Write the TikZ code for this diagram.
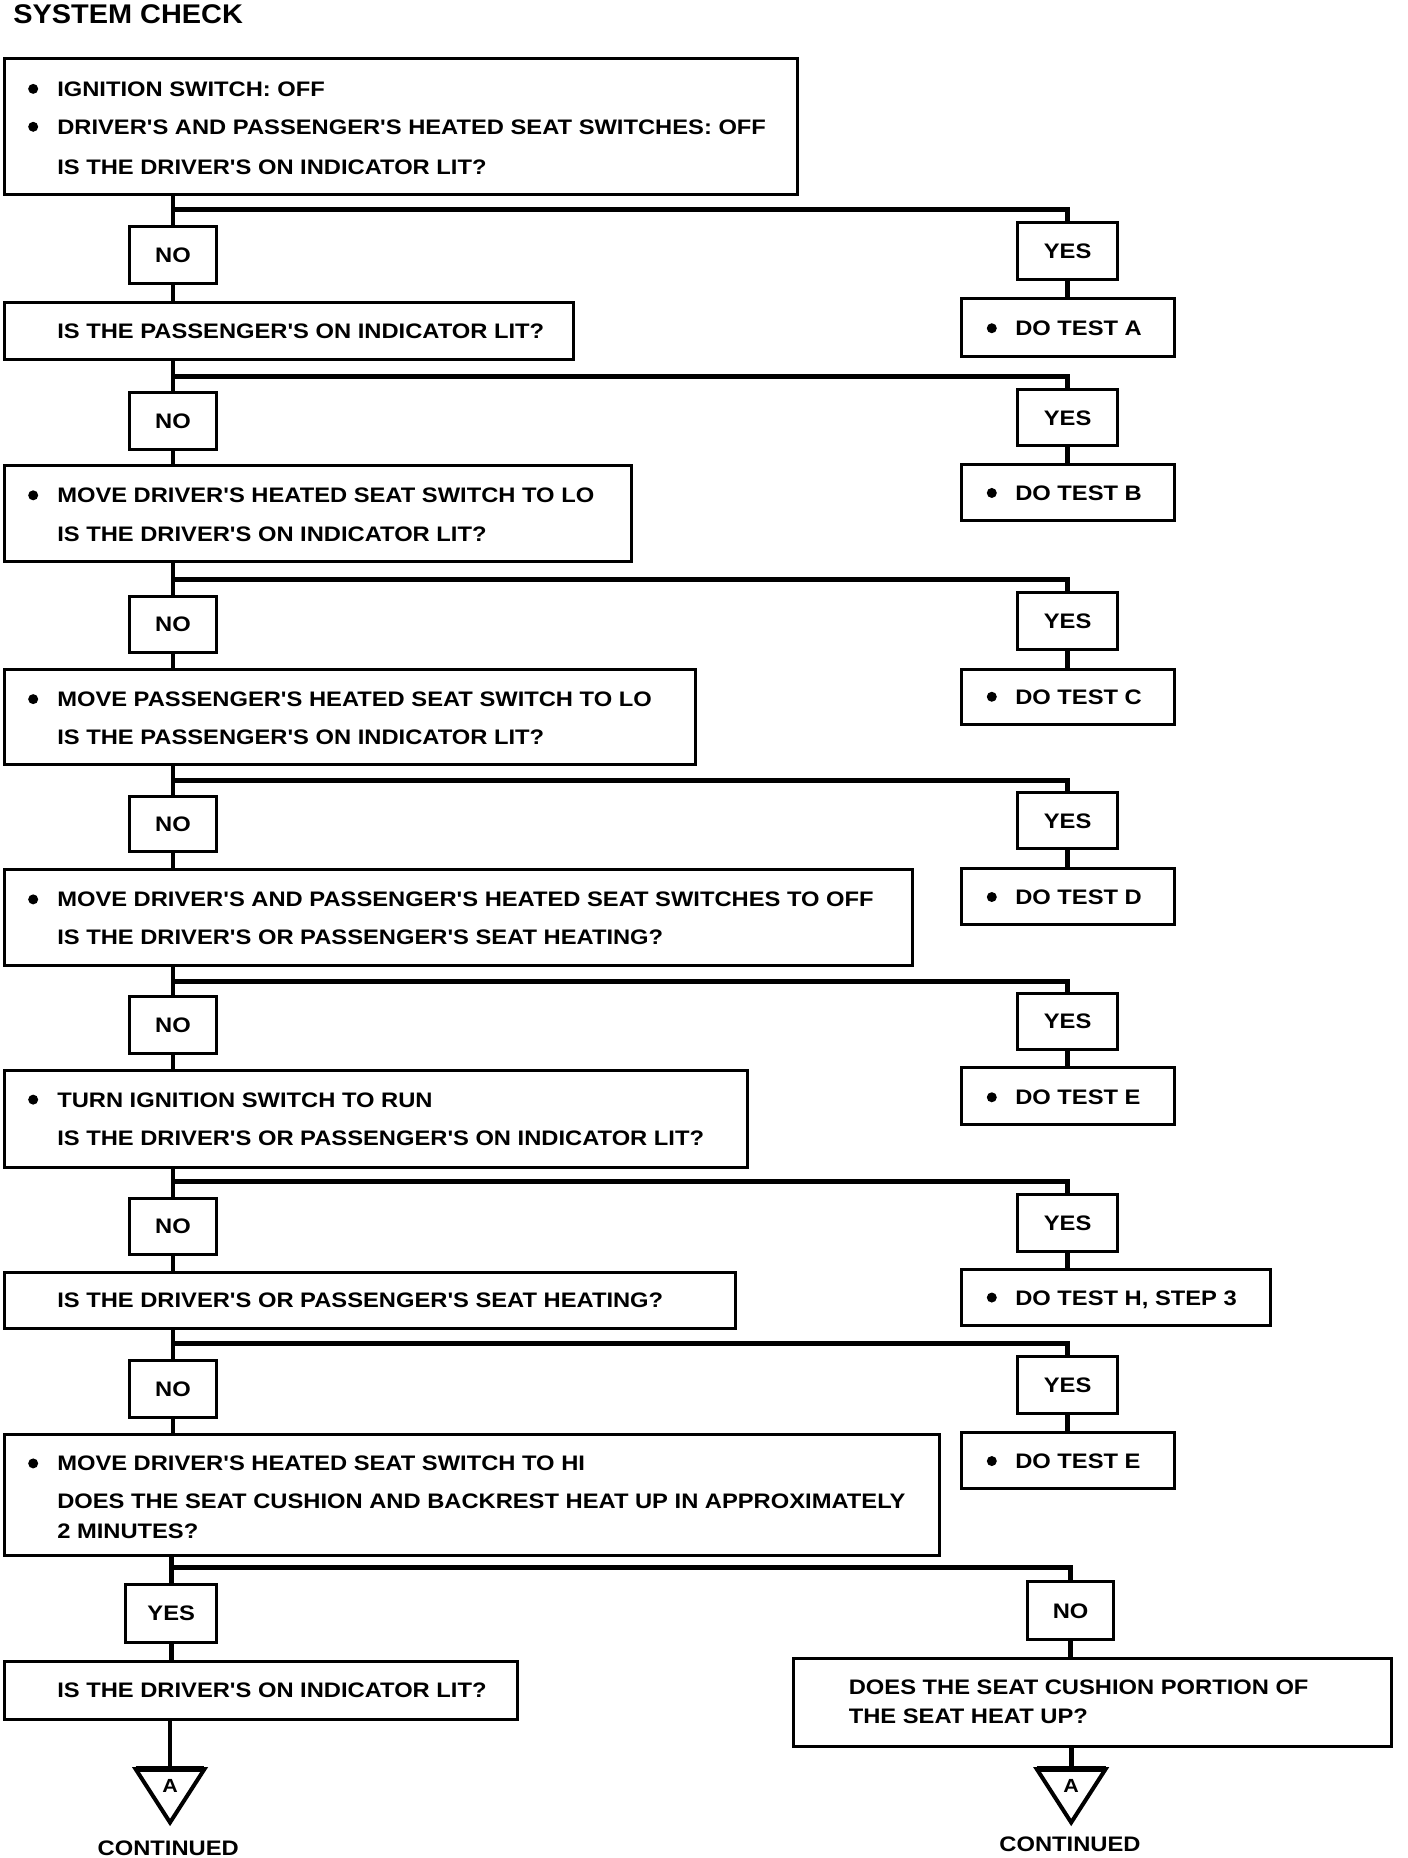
\documentclass[tikz,border=0pt]{standalone}
\usepackage{fontspec}
\setmainfont{Liberation Sans}
\newfontfamily\bodyfont{Liberation Sans Bold}[FakeStretch=1.13]
\newfontfamily\ttlfont{Liberation Sans Bold}[FakeStretch=1.07]
\usetikzlibrary{fit}
\newcommand\bfsz{\bodyfont\fontsize{10.5pt}{12pt}\selectfont}
\tikzset{
  box/.style={draw, line width=1.5pt, inner sep=0pt, fill=white},
  conn/.style={line width=2.4pt},
  txt/.style={anchor=west, inner sep=0pt, font=\bfsz, text height=7.5pt, text depth=0pt},
  ctxt/.style={anchor=center, inner sep=0pt, font=\bfsz, text height=7.5pt, text depth=0pt},
  lbl/.style={box, label={[ctxt]center:#1}},
  dot/.style={circle, fill, inner sep=0pt, minimum size=5pt},
  ttl/.style={anchor=west, inner sep=0pt, font=\ttlfont\fontsize{13.5pt}{15pt}\selectfont, text height=9.65pt, text depth=0pt},
  tri/.style={line width=2pt, line join=miter},
  tritop/.style={line width=3pt},
  alab/.style={anchor=center, inner sep=0pt, font=\bodyfont\fontsize{9.5pt}{11pt}\selectfont, text height=6.8pt, text depth=0pt}
}
\begin{document}
\begin{tikzpicture}[x=0.5925pt,y=-0.5925pt]
\useasboundingbox (0,0) rectangle (1188.2,1568);

\node[ttl] (title) at (11,11.5) {SYSTEM CHECK};

% ---------- left question boxes ----------
\node[box, fit={(4,49)(673,164)}] (q1) {};
\node[dot] (q1d1) at (28,75) {};
\node[txt] (q1t1) at (48,75) {IGNITION SWITCH: OFF};
\node[dot] (q1d2) at (28,107) {};
\node[txt] (q1t2) at (48,107) {DRIVER'S AND PASSENGER'S HEATED SEAT SWITCHES: OFF};
\node[txt] (q1t3) at (48,141) {IS THE DRIVER'S ON INDICATOR LIT?};

\node[box, fit={(4,255)(484,303)}] (q2) {};
\node[txt] (q2t1) at (48,279) {IS THE PASSENGER'S ON INDICATOR LIT?};

\node[box, fit={(4,393)(533,474)}] (q3) {};
\node[dot] (q3d1) at (28,418) {};
\node[txt] (q3t1) at (48,418) {MOVE DRIVER'S HEATED SEAT SWITCH TO LO};
\node[txt] (q3t2) at (48,451) {IS THE DRIVER'S ON INDICATOR LIT?};

\node[box, fit={(4,565)(587,645)}] (q4) {};
\node[dot] (q4d1) at (28,590) {};
\node[txt] (q4t1) at (48,590) {MOVE PASSENGER'S HEATED SEAT SWITCH TO LO};
\node[txt] (q4t2) at (48,622) {IS THE PASSENGER'S ON INDICATOR LIT?};

\node[box, fit={(4,734)(770,815)}] (q5) {};
\node[dot] (q5d1) at (28,759) {};
\node[txt] (q5t1) at (48,759) {MOVE DRIVER'S AND PASSENGER'S HEATED SEAT SWITCHES TO OFF};
\node[txt] (q5t2) at (48,791) {IS THE DRIVER'S OR PASSENGER'S SEAT HEATING?};

\node[box, fit={(4,903)(631,985)}] (q6) {};
\node[dot] (q6d1) at (28,928) {};
\node[txt] (q6t1) at (48,928) {TURN IGNITION SWITCH TO RUN};
\node[txt] (q6t2) at (48,960) {IS THE DRIVER'S OR PASSENGER'S ON INDICATOR LIT?};

\node[box, fit={(4,1074)(621,1121)}] (q7) {};
\node[txt] (q7t1) at (48,1097) {IS THE DRIVER'S OR PASSENGER'S SEAT HEATING?};

\node[box, fit={(4,1211)(793,1313)}] (q8) {};
\node[dot] (q8d1) at (28,1235) {};
\node[txt] (q8t1) at (48,1235) {MOVE DRIVER'S HEATED SEAT SWITCH TO HI};
\node[txt] (q8t2) at (48,1267) {DOES THE SEAT CUSHION AND BACKREST HEAT UP IN APPROXIMATELY};
\node[txt] (q8t3) at (48,1292) {2 MINUTES?};

\node[box, fit={(4,1402)(437,1451)}] (q9) {};
\node[txt] (q9t1) at (48,1426) {IS THE DRIVER'S ON INDICATOR LIT?};

\node[box, fit={(670,1400)(1174,1474)}] (q10) {};
\node[txt] (q10t1) at (716,1424) {DOES THE SEAT CUSHION PORTION OF};
\node[txt] (q10t2) at (716,1448) {THE SEAT HEAT UP?};

% ---------- right action boxes ----------
\node[box, fit={(811,252)(991,301)}] (a1) {};
\node[dot] (a1d) at (837,277) {};
\node[txt] (a1t) at (856.5,277) {DO TEST A};

\node[box, fit={(811,392)(991,439)}] (a2) {};
\node[dot] (a2d) at (837,416) {};
\node[txt] (a2t) at (856.5,416) {DO TEST B};

\node[box, fit={(811,565)(991,611)}] (a3) {};
\node[dot] (a3d) at (837,588) {};
\node[txt] (a3t) at (856.5,588) {DO TEST C};

\node[box, fit={(811,733)(991,780)}] (a4) {};
\node[dot] (a4d) at (837,757) {};
\node[txt] (a4t) at (856.5,757) {DO TEST D};

\node[box, fit={(811,901)(991,949)}] (a5) {};
\node[dot] (a5d) at (837,926) {};
\node[txt] (a5t) at (856.5,926) {DO TEST E};

\node[box, fit={(811,1071)(1072,1119)}] (a6) {};
\node[dot] (a6d) at (837,1095) {};
\node[txt] (a6t) at (856.5,1095) {DO TEST H, STEP 3};

\node[box, fit={(811,1209)(991,1256)}] (a7) {};
\node[dot] (a7d) at (837,1233) {};
\node[txt] (a7t) at (856.5,1233) {DO TEST E};

% ---------- NO / YES labels ----------
\node[lbl=NO, fit={(109,191)(183,239)}] (n1) {};
\node[lbl=YES, fit={(859,188)(943,236)}] (y1) {};
\node[lbl=NO, fit={(109,331)(183,379)}] (n2) {};
\node[lbl=YES, fit={(859,329)(943,376)}] (y2) {};
\node[lbl=NO, fit={(109,503)(183,551)}] (n3) {};
\node[lbl=YES, fit={(859,500)(943,548)}] (y3) {};
\node[lbl=NO, fit={(109,672)(183,719)}] (n4) {};
\node[lbl=YES, fit={(859,669)(943,716)}] (y4) {};
\node[lbl=NO, fit={(109,841)(183,889)}] (n5) {};
\node[lbl=YES, fit={(859,838)(943,886)}] (y5) {};
\node[lbl=NO, fit={(109,1011)(183,1059)}] (n6) {};
\node[lbl=YES, fit={(859,1008)(943,1056)}] (y6) {};
\node[lbl=NO, fit={(109,1148)(183,1196)}] (n7) {};
\node[lbl=YES, fit={(859,1145)(943,1193)}] (y7) {};
\node[lbl=YES, fit={(106,1337)(183,1386)}] (n8) {};
\node[lbl=NO, fit={(867,1335)(940,1384)}] (y8) {};

% ---------- branch points ----------
\coordinate (b1) at (146,177);
\coordinate (b2) at (146,318);
\coordinate (b3) at (146,489);
\coordinate (b4) at (146,659);
\coordinate (b5) at (146,828);
\coordinate (b6) at (146,997);
\coordinate (b7) at (146,1134);
\coordinate (b8) at (144.5,1323);

% ---------- connectors ----------
\foreach \i/\j in {1/2,2/3,3/4,4/5,5/6,6/7,7/8,8/9}{
  \draw[conn] (q\i.south -| n\i) -- (n\i.north);
  \draw[conn] (b\i) -| (y\i.north);
  \draw[conn] (n\i.south) -- (n\i.south |- q\j.north);
}
\foreach \i in {1,...,7}{
  \draw[conn] (y\i.south) -- (y\i.south |- a\i.north);
}
\draw[conn] (y8.south) -- (y8.south |- q10.north);

% ---------- off-page connectors ----------
\coordinate (tlT) at (143.5,1493);
\coordinate (trT) at (904,1493);
\draw[conn] (q9.south -| tlT) -- (tlT);
\draw[conn] (q10.south -| trT) -- (trT);
\draw[tri] (114.5,1493) -- (172.5,1493) -- (143.5,1538) -- cycle;
\draw[tritop] (114.5,1493) -- (172.5,1493);
\draw[tri] (875,1493) -- (933,1493) -- (904,1538) -- cycle;
\draw[tritop] (875,1493) -- (933,1493);
\node[alab] (al) at (143.5,1507) {A};
\node[alab] (ar) at (904,1507) {A};
\node[ctxt] (cl) at (142,1559.5) {CONTINUED};
\node[ctxt] (cr) at (903,1556.5) {CONTINUED};
\end{tikzpicture}
\end{document}
